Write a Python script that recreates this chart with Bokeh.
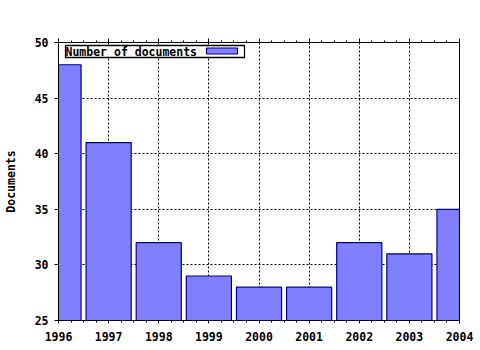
from bokeh.plotting import figure
from bokeh.models import (Range1d, LinearAxis, SingleIntervalTicker, BoxAnnotation, Label)
from bokeh.embed import file_html
from bokeh.resources import INLINE

years = [1996, 1997, 1998, 1999, 2000, 2001, 2002, 2003, 2004]
documents = [48, 41, 32, 29, 28, 28, 32, 31, 35]
series_name = "Number of documents"
y_title = "Documents"

FONT = "DejaVu Sans Mono"
FILL = "#8080ff"
EDGE = "#000090"

p = figure(width=480, height=350, output_backend="svg", toolbar_location=None,
           x_range=Range1d(1996, 2004), y_range=Range1d(25, 50),
           x_axis_location=None, y_axis_location=None,
           min_border_left=57, min_border_right=21, min_border_top=42, min_border_bottom=30)
p.outline_line_color = "black"
p.background_fill_color = "white"
p.border_fill_color = "white"

p.vbar(x=years, top=documents, bottom=25, width=0.9, fill_color=FILL, line_color=EDGE, line_width=1.2)

xt = SingleIntervalTicker(interval=1, num_minor_ticks=4)
yt = SingleIntervalTicker(interval=5, num_minor_ticks=0)

def style(ax):
    ax.axis_line_color = "black"
    ax.major_tick_line_color = "black"
    ax.minor_tick_line_color = "black"
    ax.major_label_text_font = FONT
    ax.major_label_text_font_style = "bold"
    ax.major_label_text_font_size = "11.5px"
    ax.major_label_text_color = "black"
    ax.axis_label_text_font = FONT
    ax.axis_label_text_font_style = "bold"
    ax.axis_label_text_font_size = "11.5px"
    ax.axis_label_text_color = "black"

bottom = LinearAxis(ticker=xt)
style(bottom)
bottom.major_tick_out = 3
bottom.major_tick_in = 0
bottom.minor_tick_out = 2
bottom.minor_tick_in = 0
bottom.major_label_standoff = 8
p.add_layout(bottom, "below")

top = LinearAxis(ticker=xt)
style(top)
top.major_tick_out = 4
top.major_tick_in = 0
top.minor_tick_out = 2
top.minor_tick_in = 0
top.major_label_text_color = None
p.add_layout(top, "above")

left = LinearAxis(ticker=yt, axis_label=y_title)
style(left)
left.major_tick_out = 4
left.major_tick_in = 0
left.minor_tick_line_color = None
left.major_label_standoff = 6
left.axis_label_standoff = 14
p.add_layout(left, "left")

right = LinearAxis(ticker=yt)
style(right)
right.major_tick_line_color = None
right.minor_tick_line_color = None
right.major_label_text_color = None
p.add_layout(right, "right")

p.xgrid.ticker = xt
p.ygrid.ticker = yt
for g in (p.xgrid[0], p.ygrid[0]):
    g.grid_line_color = "black"
    g.grid_line_dash = "2 2"
    g.grid_line_width = 1

# legend box (screen units, origin at the frame's bottom-left)
box = BoxAnnotation(left=7, right=186, top=275, bottom=263,
                    left_units="screen", right_units="screen", top_units="screen", bottom_units="screen",
                    fill_color="white", fill_alpha=1, line_color="black", line_alpha=1, line_width=1.3)
p.add_layout(box)
sw = BoxAnnotation(left=148, right=179, top=272.5, bottom=266.5,
                   left_units="screen", right_units="screen", top_units="screen", bottom_units="screen",
                   fill_color=FILL, fill_alpha=1, line_color=EDGE, line_alpha=1, line_width=1.2)
p.add_layout(sw)
lab = Label(x=7, y=269, x_units="screen", y_units="screen", text=series_name,
            text_font=FONT, text_font_style="bold", text_font_size="11.5px",
            text_baseline="middle", text_align="left", text_color="black")
p.add_layout(lab)

open("out.html", "w").write(file_html(p, INLINE))
